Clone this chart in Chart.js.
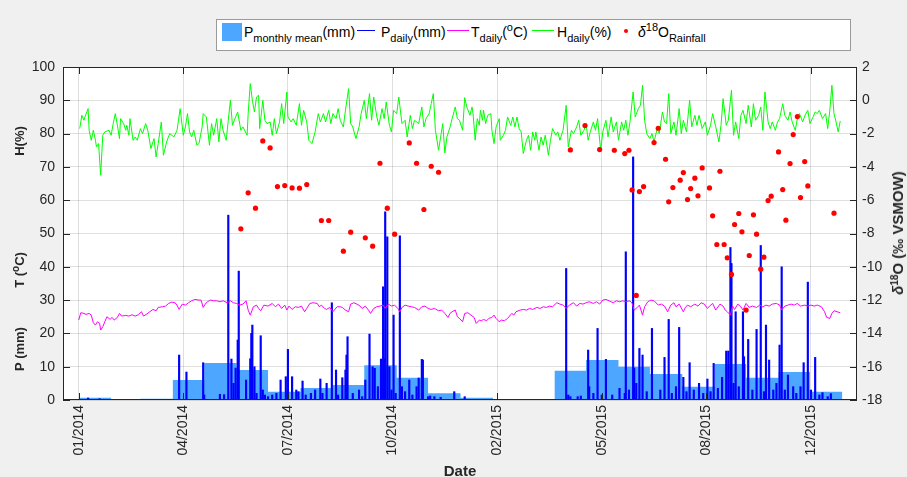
<!DOCTYPE html>
<html><head><meta charset="utf-8">
<script src="https://cdn.jsdelivr.net/npm/chart.js@4"></script>
<style>
html,body{margin:0;padding:0;background:#f0f0f0;}
#wrap{position:relative;width:907px;height:477px;overflow:hidden;font-family:'Liberation Sans',Arial,Helvetica,sans-serif;color:#262626;}
#c{position:absolute;left:0;top:0;}
.lgbox{position:absolute;left:216px;top:19px;width:633px;height:30px;background:#fff;border:1px solid #9a9a9a;}
.it{position:absolute;top:24px;font-size:14px;line-height:16px;white-space:nowrap;color:#000;}
.it sub{font-size:11px;vertical-align:-5px;line-height:0;}
.it sup{font-size:11px;vertical-align:6px;line-height:0;}
.sw{position:absolute;}
.ttl{position:absolute;font-weight:bold;white-space:nowrap;transform:translate(-50%,-50%) rotate(-90deg);color:#262626;line-height:16px;}
.ttl sup{font-size:10px;vertical-align:5px;line-height:0;}
</style></head>
<body>
<div id="wrap">
<canvas id="c" width="907" height="477"></canvas>
<div class="lgbox"></div>
<div class="sw" style="left:222px;top:23px;width:20px;height:18px;background:#4da6ff;"></div>
<div class="it" style="left:244px;">P<sub>monthly mean</sub>(mm)</div>
<div class="sw" style="left:357px;top:30px;width:18px;height:1px;background:#0000ff;"></div>
<div class="it" style="left:381px;">P<sub>daily</sub>(mm)</div>
<div class="sw" style="left:447px;top:30px;width:22px;height:1px;background:#ff00ff;"></div>
<div class="it" style="left:471px;">T<sub>daily</sub>(<sup>o</sup>C)</div>
<div class="sw" style="left:532px;top:30px;width:22px;height:1px;background:#00ff00;"></div>
<div class="it" style="left:557px;">H<sub>daily</sub>(%)</div>
<div class="sw" style="left:624px;top:29px;width:4px;height:4px;border-radius:50%;background:#ff0000;"></div>
<div class="it" style="left:638px;"><i>δ</i><sup>18</sup>O<sub>Rainfall</sub></div>
<div class="ttl" style="left:20px;top:141px;font-size:13px;">H(%)</div>
<div class="ttl" style="left:20px;top:270px;font-size:13px;">T (<sup>o</sup>C)</div>
<div class="ttl" style="left:20px;top:349px;font-size:13px;">P (mm)</div>
<div class="ttl" style="left:898px;top:233px;font-size:15px;"><i>δ</i><sup>18</sup>O (‰ VSMOW)</div>
<div style="position:absolute;left:460px;top:463px;transform:translateX(-50%);font-weight:bold;font-size:15px;line-height:16px;">Date</div>
</div>
<script>
// day index = days since 2014-01-01
const BASE = Date.UTC(2014, 0, 1);
const dayOf = (s) => { const p = s.split('-').map(Number); return (Date.UTC(p[0], p[1] - 1, p[2] || 1) - BASE) / 86400000; };

// x-axis ticks (every 100 days) and their labels
const tickDays = [0, 100, 200, 300, 400, 500, 600, 700];
const tickLabels = ['01/2014', '04/2014', '07/2014', '10/2014', '02/2015', '05/2015', '08/2015', '12/2015'];

// monthly mean precipitation (mm)
const months = ['2014-01','2014-02','2014-03','2014-04','2014-05','2014-06','2014-07','2014-08','2014-09','2014-10','2014-11','2014-12',
                '2015-01','2015-02','2015-03','2015-04','2015-05','2015-06','2015-07','2015-08','2015-09','2015-10','2015-11','2015-12'];
const monthlyMean = [0.7, 0, 0.4, 6.0, 11.1, 9.0, 2.5, 3.6, 4.5, 10.4, 6.7, 2.0,
                     0.7, 0, 0, 8.8, 12.0, 10.0, 7.8, 4.0, 10.8, 6.7, 8.4, 2.5];

// daily precipitation [day, mm]
const pDaily = [[9,0.6],[20,0.4],[96,13.5],[103,8.4],[119,11.2],[120,1.5],[135,1.7],[139,1.6],[143,55.5],[146,12.3],[148,5],[150,9.6],[152,18],[153,38.7],[160,6],[164,12.4],[165,20],[166,22.5],[168,10],[170,2],[174,19.3],[176,3],[178,1.5],
[181,1],[185,1.5],[189,2],[193,6],[198,7],[200,15.2],[204,7],[208,3],[210,2.5],[214,5.7],[217,1.5],[222,2],[226,3],[231,6.3],[233,2],[237,5],[242,29.2],[246,9],[248,1.5],[252,6.7],[255,9],[256,13.5],[257,19],[262,2],[268,3],[271,1],[274,6],[278,19.8],[281,10],[283,9.5],[286,4],[289,12.3],[291,34],[292,12.4],[293,56.5],[295,49],[297,10],[299,3],[301,25.5],[303,2],[307,49.3],[309,4],[312,2.5],[316,6],[319,1.5],[323,4],[325,6.6],[328,12.2],[329,12],[334,1],[336,1.2],[340,1],[346,0.8],[359,2.5],
[369,1],[466,39.5],[468,1.5],[470,1],[477,1],[480,1.2],[487,15],[488,4],[492,2],[496,21.5],[500,1.5],[504,12.2],[510,1.5],[517,3.5],[522,2],[523,44.5],[526,3],[530,73],[531,9.6],[533,5],[536,15.5],[539,13.5],[543,2.5],[548,21.5],
[556,3],[560,12.8],[564,24.2],[567,2],[571,4],[574,21.8],[578,6.8],[581,2.5],[584,11.2],[588,3],[593,5],[597,2],[601,6.3],[604,2.5],[607,11],[611,3.5],[615,6.8],[619,14.7],[621,14.7],[623,45.8],[624,41],[626,5],[628,26.5],[631,4],[635,26.5],[636,13],[640,18.2],[644,3],[648,21.2],[652,46.4],[655,2.5],[657,22.5],[660,12],[664,3],[667,5],[670,16.5],[672,40],[675,3],[678,7.5],[683,4],[686,2],[690,4],[693,11.2],[697,35.4],[700,3],[704,12.8],[708,1.5],[711,2.2],[716,1],[719,1.9]];

// daily temperature [day, °C]
const tDaily = [[0,24],[2,26.2],[5,26],[7,25.7],[10,26],[12,25.5],[14,23.2],[16,22.5],[18,23.5],[20,23],[21,21],[23,22],[25,23.5],[27,25],[30,24.2],[32,24.8],[34,24],[37,24.8],[39,26],[41,25.2],[45,25.4],[48,25.2],[51,25.6],[54,25.2],[57,25.6],[60,26.5],[62,25.2],[65,25.8],[68,26.5],[71,27.2],[74,26.8],[76,27.8],[80,28],[83,28.2],[86,29],[89,29.4],[92,29.2],[94,28.5],[96,27.2],[99,28.8],[102,28.5],[105,29.2],[108,29.8],[111,30.2],[115,30],[117,30],[119,27.8],[121,28.8],[123,29.5],[126,30],[129,29.8],[132,29.8],[135,29.5],[138,29.8],[142,29.2],[145,29.8],[148,29.2],[151,29],[154,28.5],[157,28.8],[160,29.8],[162,27],[164,25.5],[167,28],[170,28.5],[172,27.5],[174,26.8],[177,28.5],
[181,28.2],[185,29],[188,28],[191,28.8],[194,27.5],[197,28.5],[199,27],[201,28.2],[204,27.2],[207,28],[210,27.8],[213,28.2],[216,26.5],[218,27.5],[221,29],[224,29.2],[228,29],[230,28],[232,28.5],[235,27.5],[237,27.2],[240,27.8],[243,26.5],[247,28],[250,28],[252,27.8],[255,27],[258,26.5],[260,28.8],[263,29.2],[266,28.8],[269,28.2],[271,27.5],[274,28.2],[277,27],[279,26],[282,27.5],[285,28],[288,28.2],[291,28.5],[293,27.5],[296,28.8],[299,28.2],[302,28.5],[305,27.5],[307,26.5],[309,27.8],[312,28.5],[315,28.2],[318,28],[321,27.8],[325,27],[328,28],[331,28.2],[334,27.5],[337,27.2],[340,27.5],[344,26.8],[347,27],[350,26],[353,24.8],[355,26],[357,26.5],[360,27],[362,25],
[364,24.5],[367,23.5],[369,26],[372,26.2],[375,25.5],[378,24.8],[380,23],[383,24],[385,23.8],[387,24.2],[390,23.8],[392,24.5],[395,24.8],[397,25.5],[399,24.5],[402,23.5],[404,24],[407,23.8],[410,24.5],[414,26],[416,25.5],[418,26.5],[422,27],[425,27.2],[428,27],[431,27.5],[434,27.2],[438,27.8],[441,27.5],[444,28],[447,27.8],[450,28.2],[453,28],[457,29.2],[460,28.8],[463,28.5],[466,27.5],[469,28.5],[473,29.2],[476,28.2],[479,29],[482,28.8],[485,29.2],[488,29.5],[492,29],[495,29.5],[498,28.8],[501,30],[504,30.2],[507,29.8],[511,29.2],[514,29.8],[517,29.5],[520,29.8],[523,29.5],[527,29.8],[529,29],[531,27],[534,27.8],[536,28.5],[539,25.5],[541,28],[544,29.5],[547,30],[550,29.8],
[554,28.5],[557,28.8],[560,28.2],[563,26.5],[566,28.5],[569,29.2],[571,28],[574,28.8],[578,26.5],[580,27.8],[582,28.5],[585,28],[589,28.8],[592,28.2],[595,29.2],[598,28.8],[601,27.5],[603,28.2],[606,29],[609,27],[613,28.8],[616,28.2],[618,27],[620,26.5],[623,25.5],[625,28.2],[627,27.2],[630,28.8],[633,28],[635,27],[638,29],[641,27.8],[644,28.2],[648,27.8],[651,28.5],[654,28],[657,28.5],[660,28.2],[663,28.8],[667,29],[670,28.5],[672,27],[675,28.2],[678,28.5],[681,28.8],[684,28.5],[687,29],[690,28.2],[694,28.5],[697,28.2],[700,28.5],[703,28.2],[706,28.5],[710,28],[713,26.5],[715,24.8],[718,24.5],[720,26],[722,26.8],[725,26.5],[728,26.2]];

// daily relative humidity [day, %]
const hDaily = [[1,81.5],[3,85.5],[5,84],[6,85],[9,87.5],[10,81],[12,78],[14,81],[16,78],[17,76],[19,77],[21,67.5],[23,79.5],[25,80.5],[29,81],[31,79.5],[33,83],[35,86],[37,82.5],[39,78.5],[40,84.5],[43,83],[45,81],[46,82.5],[48,79.5],[49,84.5],[52,78],[54,79],[56,78],[59,81.5],[61,80],[64,83],[66,81],[69,75.5],[72,78.5],[74,73],[76,77],[79,83.5],[81,73.5],[84,77.5],[87,80],[91,79],[94,81],[97,87.5],[100,79.5],[102,82],[104,86],[106,80.5],[108,79],[110,81],[113,76.5],[115,77],[118,82],[119,86],[122,85],[125,76.5],[127,83],[129,79.5],[132,84.5],[134,77.5],[136,84.5],[138,81],[141,78],[143,84],[145,90],[147,82.5],[150,85],[152,86.5],[155,81],[157,82],[161,79.5],[162,86],[164,95],[166,90],[168,86.5],[170,91],[172,91.5],[173,81.5],[176,90],[178,84],[180,83],[183,83.5],[185,79.5],[187,84.5],[189,80],[192,83.5],[194,89],[196,83],[199,92.5],[200,85],[203,83.5],[205,84.5],[208,82.5],[211,89],[213,82.5],[215,87],[218,83.5],[220,78],[223,77],[226,80.5],[229,86],[231,83.5],[234,86],[236,83.5],[239,87],[241,83],[243,86],[246,84.5],[248,87.5],[250,84],[253,82],[255,87],[258,93.5],[260,83],[262,82],[265,78.5],[268,82],[270,86],[273,90],[275,84.5],[278,92],[280,84],[282,91],[285,85],[287,82.5],[290,87.5],[292,84.5],[294,89.5],[297,82.5],[299,80.5],[301,87],[304,86],[306,91],[309,83],[312,84],[314,79],[317,85.5],[319,81.5],[321,84],[325,83],[328,88],[330,82],[332,84.5],[335,86],[337,89],[339,92],[341,81],[344,75],[346,79],[348,83],[350,74.2],[352,79],[355,82],[357,84.5],[360,88],[362,84.5],
[364,84],[367,81],[369,90.8],[371,88],[374,85.5],[376,88],[377,86],[379,78],[381,84.5],[383,82.5],[384,87],[386,84],[387,87],[389,83],[391,85.5],[394,86],[395,81],[397,77],[399,82],[402,84.5],[403,78],[406,79.5],[408,81],[410,85],[413,82.5],[415,85],[417,82],[419,85],[421,81.5],[423,80.5],[425,74],[428,78],[430,79.5],[432,75],[434,80.5],[436,78],[437,80.5],[440,75],[442,79],[444,76.5],[446,79.5],[449,73.5],[451,78],[453,81.5],[456,79.5],[458,80.5],[460,78],[463,81],[466,88.5],[468,76],[471,81],[473,80],[476,82],[478,84],[480,79.5],[483,81],[485,83],[487,78],[489,80.5],[492,83.5],[494,81],[496,84.5],[499,75],[501,80.5],[504,84],[506,79],[509,85],[511,80.5],[514,83.5],[516,78],[519,83.5],[521,81],[523,84],[525,79.5],[527,83.5],[530,92.5],[532,85],[535,87.5],[537,88.5],[539,94.5],[541,84],[543,80],[546,78.5],[548,80],[550,77.5],[553,81.5],[555,80],[558,86.5],[560,83.5],[562,83],[564,92],[566,80],[569,83.5],[571,79.5],[574,87.5],[576,80],[578,84],[581,80.5],[584,90],[586,82],[589,85.5],[591,82.5],[593,85.5],[596,81.5],[599,83.5],[601,79.5],[604,82.5],[606,86],[609,82],[612,77.5],[614,82.5],[616,90.5],[619,82.5],[621,84],[624,93],[626,79.5],[628,83.5],[631,78.5],[633,85.5],[635,87],[638,83],[640,88.5],[643,82],[645,89],[647,84],[650,85.5],[652,88],[654,81],[656,92.5],[659,83.5],[661,81.5],[663,83.5],[666,81],[668,83.5],[670,84.5],[673,89],[675,85.5],[678,84],[680,86.5],[682,83.5],[685,81],[687,84.5],[689,86],[692,83.5],[695,86],[697,87],[699,83],[702,85],[704,86.5],[706,86],[708,87],[711,84.5],[714,86],[716,81.5],[718,87],[720,94.5],[722,86],[724,83.5],[726,80.5],[728,83.8]];

// rainfall delta-18O [day, ‰ VSMOW]
const d18O = [[155,-7.72],[162,-5.56],[169,-6.48],[176,-2.44],[183,-2.86],[190,-5.18],[197,-5.12],[204,-5.26],[211,-5.28],[218,-5.06],[232,-7.22],[239,-7.22],[253,-9.06],[260,-7.92],[274,-8.26],[281,-8.76],[288,-3.78],[295,-6.48],[302,-8.04],[316,-2.56],[323,-3.78],[330,-6.56],[337,-3.96],[344,-4.32],
[470,-2.98],[484,-1.52],[498,-2.96],[512,-3.0],[522,-3.2],[526,-3.0],[529,-5.38],[533,-11.72],[536,-5.48],[540,-5.18],[550,-2.54],[554,-1.68],[561,-3.54],[564,-6.1],[568,-5.24],[575,-4.8],[578,-4.34],[582,-5.96],[585,-5.3],[589,-4.68],[592,-5.74],[596,-4.06],[603,-5.26],[606,-6.94],[610,-8.66],[613,-4.26],[617,-8.66],[620,-9.46],[624,-10.46],[627,-7.46],[631,-6.8],[634,-7.9],[638,-12.6],[641,-9.32],[645,-6.88],[648,-8.04],[652,-10.14],[655,-9.42],[659,-6.02],[662,-5.76],[669,-3.1],[673,-5.36],[676,-7.2],[680,-3.8],[683,-2.06],[687,-0.98],[690,-5.84],[694,-3.68],[697,-5.14],[722,-6.78]];

const xy = (arr) => arr.map(p => ({x: p[0], y: p[1]}));
const monthlyPts = months.map((m, i) => ({x: dayOf(m), y: monthlyMean[i]}));
monthlyPts.push({x: dayOf('2016-01-01'), y: monthlyMean[monthlyMean.length - 1]});

const AX = '#262626';
const GRID = 'rgba(38,38,38,0.15)';
Chart.defaults.font.family = "'Liberation Sans', Arial, Helvetica, sans-serif";
Chart.defaults.font.size = 14;
Chart.defaults.color = AX;

const framePlugin = {
  id: 'frame',
  beforeDraw(chart) {
    const {ctx, chartArea: a} = chart;
    ctx.save(); ctx.fillStyle = '#ffffff';
    ctx.fillRect(a.left, a.top, a.right - a.left, a.bottom - a.top);
    ctx.restore();
  },
  afterDraw(chart) {
    const {ctx, chartArea: a, scales} = chart;
    const L = 7;
    ctx.save();
    ctx.strokeStyle = AX; ctx.lineWidth = 1;
    ctx.beginPath();
    scales.x.ticks.forEach(t => {
      const px = Math.round(scales.x.getPixelForValue(t.value)) + 0.5;
      ctx.moveTo(px, a.bottom); ctx.lineTo(px, a.bottom - L);
      ctx.moveTo(px, a.top); ctx.lineTo(px, a.top + L);
    });
    scales.y.ticks.forEach(t => {
      const py = Math.round(scales.y.getPixelForValue(t.value)) + 0.5;
      ctx.moveTo(a.left, py); ctx.lineTo(a.left + L, py);
    });
    scales.y2.ticks.forEach(t => {
      const py = Math.round(scales.y2.getPixelForValue(t.value)) + 0.5;
      ctx.moveTo(a.right, py); ctx.lineTo(a.right - L, py);
    });
    ctx.stroke();
    ctx.strokeRect(Math.round(a.left) + 0.5, Math.round(a.top) + 0.5, Math.round(a.right - a.left) - 1, Math.round(a.bottom - a.top) - 1);
    ctx.restore();
  }
};

new Chart(document.getElementById('c'), {
  type: 'line',
  data: {
    datasets: [
      {type: 'line', label: 'P monthly mean (mm)', data: monthlyPts, stepped: 'before', fill: 'origin',
       backgroundColor: '#4da6ff', borderColor: '#4da6ff', borderWidth: 0, pointRadius: 0, yAxisID: 'y', order: 5},
      {type: 'bar', label: 'P daily (mm)', data: xy(pDaily), backgroundColor: '#0000ff', borderWidth: 0,
       barThickness: 1.5, grouped: false, yAxisID: 'y', order: 4},
      {type: 'line', label: 'T daily (°C)', data: xy(tDaily), borderColor: '#ff00ff', borderWidth: 1,
       pointRadius: 0, fill: false, tension: 0, yAxisID: 'y', order: 3},
      {type: 'line', label: 'H daily (%)', data: xy(hDaily), borderColor: '#00ff00', borderWidth: 1,
       pointRadius: 0, fill: false, tension: 0, yAxisID: 'y', order: 2},
      {type: 'scatter', label: 'δ18O Rainfall', data: xy(d18O), backgroundColor: '#ff0000', borderWidth: 0,
       pointRadius: 2.6, showLine: false, yAxisID: 'y2', order: 1}
    ]
  },
  options: {
    responsive: false, animation: false,
    layout: {padding: {top: 67, left: 0, right: 0, bottom: 0}},
    plugins: {legend: {display: false}, tooltip: {enabled: false}},
    scales: {
      x: {
        type: 'linear', min: -15, max: 744, offset: false,
        afterFit: s => { s.height = 77; },
        afterBuildTicks: s => { s.ticks = tickDays.map(v => ({value: v})); },
        ticks: {autoSkip: false, minRotation: 90, maxRotation: 90, padding: 5,
                callback: v => tickLabels[tickDays.indexOf(v)]},
        grid: {color: GRID, drawTicks: false, offset: false},
        border: {display: false}
      },
      y: {
        type: 'linear', position: 'left', min: 0, max: 100,
        afterFit: s => { s.width = 63; },
        ticks: {stepSize: 10, padding: 8},
        grid: {color: GRID, drawTicks: false},
        border: {display: false}
      },
      y2: {
        type: 'linear', position: 'right', min: -18, max: 2,
        afterFit: s => { s.width = 50; },
        ticks: {stepSize: 2, padding: 5},
        grid: {display: false, drawTicks: false},
        border: {display: false}
      }
    }
  },
  plugins: [framePlugin]
});
</script>
</body></html>
